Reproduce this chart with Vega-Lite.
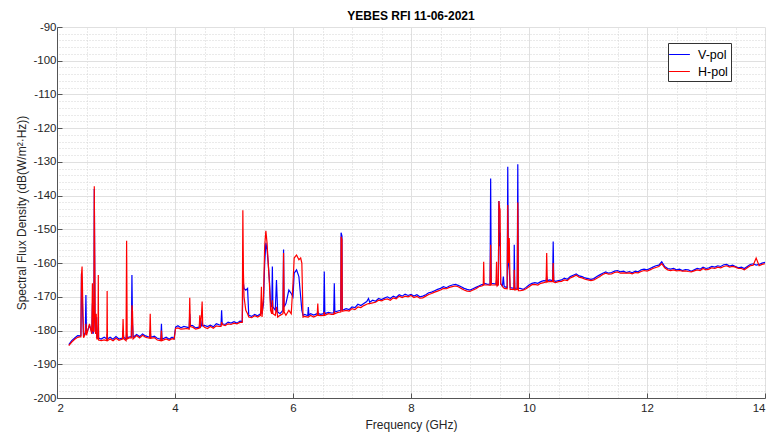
{
  "$schema": "https://vega.github.io/schema/vega-lite/v6.json",
  "width": 708,
  "height": 371,
  "autosize": {"type": "none"},
  "padding": {"left": 57, "top": 27, "right": 8, "bottom": 37},
  "background": "white",
  "config": {
    "view": {"stroke": null},
    "font": "Liberation Sans"
  },
  "title": {
    "text": "YEBES RFI 11-06-2021",
    "font": "Liberation Sans",
    "fontSize": 12,
    "fontWeight": "bold",
    "color": "#000000",
    "anchor": "middle",
    "offset": -2
  },
  "data": {
    "values": [
      {"f": 2.20, "V": -184.2, "H": -184.5},
      {"f": 2.25, "V": -183.0, "H": -183.4},
      {"f": 2.30, "V": -182.2, "H": -182.6},
      {"f": 2.35, "V": -181.5, "H": -182.0},
      {"f": 2.40, "V": -181.6, "H": -181.8},
      {"f": 2.405, "V": -181.5, "H": -182.0},
      {"f": 2.415, "V": -163.0, "H": -163.5},
      {"f": 2.425, "V": -167.0, "H": -161.0},
      {"f": 2.435, "V": -175.0, "H": -170.0},
      {"f": 2.45, "V": -181.8, "H": -182.1},
      {"f": 2.48, "V": -180.5, "H": -181.0},
      {"f": 2.49, "V": -169.5, "H": -178.0},
      {"f": 2.50, "V": -181.0, "H": -181.4},
      {"f": 2.55, "V": -178.5, "H": -178.0},
      {"f": 2.59, "V": -180.5, "H": -181.0},
      {"f": 2.60, "V": -172.0, "H": -166.0},
      {"f": 2.61, "V": -181.0, "H": -180.0},
      {"f": 2.625, "V": -180.0, "H": -180.5},
      {"f": 2.632, "V": -138.0, "H": -137.2},
      {"f": 2.645, "V": -176.0, "H": -175.0},
      {"f": 2.655, "V": -180.5, "H": -181.0},
      {"f": 2.665, "V": -176.0, "H": -175.0},
      {"f": 2.675, "V": -182.0, "H": -182.5},
      {"f": 2.695, "V": -182.0, "H": -182.5},
      {"f": 2.70, "V": -176.0, "H": -163.5},
      {"f": 2.705, "V": -182.2, "H": -182.8},
      {"f": 2.75, "V": -182.5, "H": -183.0},
      {"f": 2.80, "V": -182.0, "H": -182.8},
      {"f": 2.845, "V": -182.5, "H": -183.0},
      {"f": 2.85, "V": -181.0, "H": -168.3},
      {"f": 2.855, "V": -182.5, "H": -183.0},
      {"f": 2.90, "V": -182.0, "H": -182.5},
      {"f": 2.95, "V": -182.6, "H": -183.0},
      {"f": 3.00, "V": -181.8, "H": -182.3},
      {"f": 3.05, "V": -182.5, "H": -182.9},
      {"f": 3.11, "V": -182.2, "H": -182.5},
      {"f": 3.12, "V": -180.0, "H": -176.6},
      {"f": 3.13, "V": -182.0, "H": -182.4},
      {"f": 3.17, "V": -182.6, "H": -183.0},
      {"f": 3.18, "V": -181.0, "H": -153.4},
      {"f": 3.19, "V": -182.2, "H": -182.5},
      {"f": 3.22, "V": -181.9, "H": -182.2},
      {"f": 3.26, "V": -181.8, "H": -182.2},
      {"f": 3.27, "V": -163.5, "H": -172.5},
      {"f": 3.28, "V": -178.0, "H": -174.4},
      {"f": 3.29, "V": -182.0, "H": -182.5},
      {"f": 3.35, "V": -181.2, "H": -181.5},
      {"f": 3.40, "V": -181.8, "H": -182.2},
      {"f": 3.45, "V": -181.0, "H": -181.4},
      {"f": 3.50, "V": -181.6, "H": -182.0},
      {"f": 3.57, "V": -182.0, "H": -182.3},
      {"f": 3.58, "V": -180.0, "H": -175.0},
      {"f": 3.59, "V": -182.0, "H": -182.3},
      {"f": 3.65, "V": -181.7, "H": -182.1},
      {"f": 3.70, "V": -182.3, "H": -182.8},
      {"f": 3.76, "V": -182.6, "H": -183.0},
      {"f": 3.77, "V": -178.0, "H": -180.0},
      {"f": 3.78, "V": -182.6, "H": -183.0},
      {"f": 3.85, "V": -182.0, "H": -182.5},
      {"f": 3.90, "V": -182.6, "H": -182.9},
      {"f": 3.95, "V": -182.0, "H": -182.4},
      {"f": 3.985, "V": -182.4, "H": -182.6},
      {"f": 4.01, "V": -179.0, "H": -179.4},
      {"f": 4.05, "V": -178.6, "H": -179.2},
      {"f": 4.10, "V": -179.2, "H": -179.6},
      {"f": 4.15, "V": -178.8, "H": -179.5},
      {"f": 4.20, "V": -179.0, "H": -179.4},
      {"f": 4.24, "V": -179.2, "H": -179.6},
      {"f": 4.25, "V": -175.0, "H": -170.3},
      {"f": 4.26, "V": -178.5, "H": -178.8},
      {"f": 4.30, "V": -178.5, "H": -179.0},
      {"f": 4.35, "V": -179.2, "H": -179.6},
      {"f": 4.41, "V": -179.0, "H": -179.3},
      {"f": 4.42, "V": -178.0, "H": -175.5},
      {"f": 4.43, "V": -179.0, "H": -179.2},
      {"f": 4.45, "V": -178.5, "H": -175.0},
      {"f": 4.46, "V": -177.0, "H": -171.4},
      {"f": 4.47, "V": -178.6, "H": -178.5},
      {"f": 4.50, "V": -178.5, "H": -179.0},
      {"f": 4.55, "V": -178.8, "H": -179.4},
      {"f": 4.60, "V": -178.4, "H": -178.8},
      {"f": 4.65, "V": -178.9, "H": -179.3},
      {"f": 4.70, "V": -178.0, "H": -178.6},
      {"f": 4.75, "V": -178.3, "H": -178.8},
      {"f": 4.78, "V": -178.4, "H": -178.8},
      {"f": 4.79, "V": -174.0, "H": -177.5},
      {"f": 4.80, "V": -178.0, "H": -178.2},
      {"f": 4.85, "V": -178.2, "H": -178.5},
      {"f": 4.90, "V": -177.5, "H": -178.0},
      {"f": 4.95, "V": -177.8, "H": -178.2},
      {"f": 5.00, "V": -177.4, "H": -177.8},
      {"f": 5.05, "V": -177.8, "H": -178.0},
      {"f": 5.10, "V": -177.2, "H": -177.6},
      {"f": 5.14, "V": -177.3, "H": -177.6},
      {"f": 5.15, "V": -168.0, "H": -144.3},
      {"f": 5.16, "V": -166.0, "H": -163.0},
      {"f": 5.17, "V": -167.5, "H": -170.0},
      {"f": 5.20, "V": -168.0, "H": -174.0},
      {"f": 5.23, "V": -167.5, "H": -175.0},
      {"f": 5.25, "V": -175.5, "H": -176.0},
      {"f": 5.30, "V": -175.8, "H": -176.2},
      {"f": 5.35, "V": -175.2, "H": -175.6},
      {"f": 5.40, "V": -175.6, "H": -176.0},
      {"f": 5.45, "V": -175.0, "H": -175.5},
      {"f": 5.465, "V": -174.0, "H": -167.0},
      {"f": 5.475, "V": -175.0, "H": -176.0},
      {"f": 5.50, "V": -172.0, "H": -170.0},
      {"f": 5.52, "V": -160.0, "H": -155.0},
      {"f": 5.54, "V": -154.0, "H": -150.4},
      {"f": 5.56, "V": -156.0, "H": -154.0},
      {"f": 5.58, "V": -160.0, "H": -160.0},
      {"f": 5.60, "V": -165.0, "H": -166.0},
      {"f": 5.62, "V": -172.0, "H": -174.0},
      {"f": 5.64, "V": -173.0, "H": -175.0},
      {"f": 5.65, "V": -161.0, "H": -171.0},
      {"f": 5.66, "V": -173.0, "H": -175.0},
      {"f": 5.70, "V": -174.0, "H": -175.5},
      {"f": 5.72, "V": -165.0, "H": -173.0},
      {"f": 5.74, "V": -174.5, "H": -176.0},
      {"f": 5.78, "V": -175.0, "H": -175.5},
      {"f": 5.83, "V": -174.0, "H": -175.0},
      {"f": 5.84, "V": -156.0, "H": -157.0},
      {"f": 5.85, "V": -173.0, "H": -174.5},
      {"f": 5.88, "V": -172.0, "H": -175.5},
      {"f": 5.93, "V": -168.0, "H": -174.0},
      {"f": 5.97, "V": -169.0, "H": -175.0},
      {"f": 6.00, "V": -170.0, "H": -166.0},
      {"f": 6.02, "V": -163.0, "H": -158.5},
      {"f": 6.06, "V": -162.0, "H": -157.6},
      {"f": 6.10, "V": -164.0, "H": -159.0},
      {"f": 6.13, "V": -170.0, "H": -158.5},
      {"f": 6.15, "V": -174.0, "H": -160.0},
      {"f": 6.17, "V": -175.5, "H": -176.0},
      {"f": 6.20, "V": -175.2, "H": -175.8},
      {"f": 6.25, "V": -175.6, "H": -176.0},
      {"f": 6.26, "V": -173.0, "H": -176.0},
      {"f": 6.27, "V": -175.4, "H": -175.8},
      {"f": 6.30, "V": -175.0, "H": -175.5},
      {"f": 6.35, "V": -175.4, "H": -176.0},
      {"f": 6.41, "V": -175.0, "H": -175.5},
      {"f": 6.42, "V": -174.5, "H": -172.0},
      {"f": 6.43, "V": -175.0, "H": -175.5},
      {"f": 6.47, "V": -175.2, "H": -175.6},
      {"f": 6.52, "V": -175.0, "H": -175.5},
      {"f": 6.53, "V": -162.5, "H": -174.5},
      {"f": 6.54, "V": -175.0, "H": -175.5},
      {"f": 6.60, "V": -174.6, "H": -175.0},
      {"f": 6.65, "V": -174.8, "H": -175.2},
      {"f": 6.69, "V": -174.8, "H": -175.2},
      {"f": 6.70, "V": -166.0, "H": -174.5},
      {"f": 6.71, "V": -174.5, "H": -175.0},
      {"f": 6.76, "V": -174.2, "H": -174.6},
      {"f": 6.81, "V": -174.0, "H": -174.5},
      {"f": 6.815, "V": -151.0, "H": -152.2},
      {"f": 6.83, "V": -152.0, "H": -153.0},
      {"f": 6.835, "V": -174.0, "H": -174.3},
      {"f": 6.90, "V": -173.5, "H": -174.0},
      {"f": 6.95, "V": -173.8, "H": -174.2},
      {"f": 7.00, "V": -173.0, "H": -173.5},
      {"f": 7.05, "V": -173.2, "H": -173.8},
      {"f": 7.10, "V": -172.2, "H": -173.0},
      {"f": 7.15, "V": -172.6, "H": -173.2},
      {"f": 7.20, "V": -172.0, "H": -172.6},
      {"f": 7.25, "V": -171.4, "H": -172.2},
      {"f": 7.28, "V": -170.5, "H": -172.0},
      {"f": 7.30, "V": -171.6, "H": -172.0},
      {"f": 7.35, "V": -171.0, "H": -171.8},
      {"f": 7.40, "V": -171.3, "H": -171.6},
      {"f": 7.45, "V": -170.5, "H": -171.0},
      {"f": 7.50, "V": -170.8, "H": -171.2},
      {"f": 7.55, "V": -170.4, "H": -170.8},
      {"f": 7.60, "V": -170.0, "H": -170.6},
      {"f": 7.65, "V": -170.5, "H": -171.0},
      {"f": 7.70, "V": -169.8, "H": -170.3},
      {"f": 7.75, "V": -170.2, "H": -170.6},
      {"f": 7.80, "V": -169.4, "H": -169.8},
      {"f": 7.85, "V": -169.8, "H": -170.2},
      {"f": 7.90, "V": -169.2, "H": -169.8},
      {"f": 7.95, "V": -169.6, "H": -170.0},
      {"f": 8.00, "V": -169.3, "H": -169.6},
      {"f": 8.05, "V": -169.8, "H": -170.2},
      {"f": 8.10, "V": -169.4, "H": -169.9},
      {"f": 8.15, "V": -170.0, "H": -170.4},
      {"f": 8.20, "V": -169.8, "H": -170.3},
      {"f": 8.25, "V": -169.4, "H": -169.8},
      {"f": 8.30, "V": -168.8, "H": -169.3},
      {"f": 8.35, "V": -168.6, "H": -169.0},
      {"f": 8.40, "V": -168.2, "H": -168.6},
      {"f": 8.45, "V": -167.8, "H": -168.3},
      {"f": 8.50, "V": -167.5, "H": -168.0},
      {"f": 8.55, "V": -167.0, "H": -167.5},
      {"f": 8.60, "V": -167.3, "H": -167.6},
      {"f": 8.65, "V": -166.8, "H": -167.2},
      {"f": 8.70, "V": -166.5, "H": -167.0},
      {"f": 8.75, "V": -166.3, "H": -166.8},
      {"f": 8.80, "V": -166.6, "H": -167.0},
      {"f": 8.85, "V": -167.0, "H": -167.5},
      {"f": 8.90, "V": -167.5, "H": -168.0},
      {"f": 8.95, "V": -167.8, "H": -168.3},
      {"f": 9.00, "V": -168.0, "H": -168.4},
      {"f": 9.05, "V": -167.6, "H": -168.0},
      {"f": 9.10, "V": -167.2, "H": -167.6},
      {"f": 9.15, "V": -166.8, "H": -167.0},
      {"f": 9.20, "V": -166.4, "H": -166.8},
      {"f": 9.225, "V": -166.3, "H": -166.6},
      {"f": 9.232, "V": -166.0, "H": -159.6},
      {"f": 9.24, "V": -166.0, "H": -166.5},
      {"f": 9.30, "V": -166.3, "H": -166.5},
      {"f": 9.34, "V": -166.2, "H": -166.6},
      {"f": 9.35, "V": -134.9, "H": -154.6},
      {"f": 9.36, "V": -166.0, "H": -166.5},
      {"f": 9.44, "V": -166.2, "H": -166.5},
      {"f": 9.45, "V": -165.0, "H": -159.6},
      {"f": 9.46, "V": -166.5, "H": -166.8},
      {"f": 9.48, "V": -166.4, "H": -166.4},
      {"f": 9.49, "V": -141.6, "H": -141.6},
      {"f": 9.50, "V": -155.0, "H": -143.5},
      {"f": 9.51, "V": -151.0, "H": -144.3},
      {"f": 9.52, "V": -166.2, "H": -166.0},
      {"f": 9.55, "V": -166.8, "H": -167.0},
      {"f": 9.565, "V": -164.0, "H": -167.2},
      {"f": 9.58, "V": -167.0, "H": -167.5},
      {"f": 9.63, "V": -167.2, "H": -167.6},
      {"f": 9.64, "V": -131.4, "H": -142.8},
      {"f": 9.65, "V": -160.0, "H": -160.0},
      {"f": 9.665, "V": -162.0, "H": -152.6},
      {"f": 9.68, "V": -167.3, "H": -167.8},
      {"f": 9.745, "V": -167.5, "H": -167.8},
      {"f": 9.75, "V": -154.6, "H": -162.0},
      {"f": 9.76, "V": -167.5, "H": -168.0},
      {"f": 9.80, "V": -167.4, "H": -167.8},
      {"f": 9.81, "V": -130.7, "H": -142.0},
      {"f": 9.82, "V": -167.5, "H": -168.2},
      {"f": 9.85, "V": -167.5, "H": -168.2},
      {"f": 9.90, "V": -167.8, "H": -168.0},
      {"f": 9.95, "V": -167.2, "H": -167.6},
      {"f": 10.00, "V": -166.5, "H": -167.0},
      {"f": 10.05, "V": -166.0, "H": -166.4},
      {"f": 10.10, "V": -165.8, "H": -166.3},
      {"f": 10.15, "V": -166.0, "H": -166.5},
      {"f": 10.20, "V": -165.5, "H": -166.0},
      {"f": 10.25, "V": -165.2, "H": -165.8},
      {"f": 10.29, "V": -165.3, "H": -165.6},
      {"f": 10.30, "V": -164.0, "H": -157.0},
      {"f": 10.31, "V": -165.2, "H": -165.6},
      {"f": 10.35, "V": -165.0, "H": -165.4},
      {"f": 10.40, "V": -165.2, "H": -165.5},
      {"f": 10.41, "V": -153.6, "H": -160.0},
      {"f": 10.42, "V": -165.2, "H": -165.6},
      {"f": 10.45, "V": -165.4, "H": -165.8},
      {"f": 10.50, "V": -165.2, "H": -165.5},
      {"f": 10.55, "V": -165.0, "H": -165.4},
      {"f": 10.60, "V": -164.5, "H": -165.0},
      {"f": 10.65, "V": -164.8, "H": -165.2},
      {"f": 10.70, "V": -164.0, "H": -164.4},
      {"f": 10.75, "V": -163.6, "H": -164.0},
      {"f": 10.80, "V": -163.2, "H": -163.6},
      {"f": 10.85, "V": -163.8, "H": -164.2},
      {"f": 10.90, "V": -164.0, "H": -164.4},
      {"f": 10.95, "V": -164.4, "H": -164.8},
      {"f": 11.00, "V": -164.6, "H": -165.0},
      {"f": 11.05, "V": -164.8, "H": -165.2},
      {"f": 11.10, "V": -164.6, "H": -165.0},
      {"f": 11.15, "V": -164.0, "H": -164.5},
      {"f": 11.20, "V": -163.5, "H": -164.0},
      {"f": 11.25, "V": -163.0, "H": -163.4},
      {"f": 11.30, "V": -162.6, "H": -163.0},
      {"f": 11.35, "V": -163.0, "H": -163.3},
      {"f": 11.40, "V": -162.8, "H": -163.2},
      {"f": 11.45, "V": -162.4, "H": -162.8},
      {"f": 11.50, "V": -162.2, "H": -162.6},
      {"f": 11.55, "V": -162.6, "H": -163.0},
      {"f": 11.60, "V": -162.4, "H": -162.9},
      {"f": 11.65, "V": -162.8, "H": -163.0},
      {"f": 11.70, "V": -162.5, "H": -162.9},
      {"f": 11.75, "V": -162.9, "H": -163.2},
      {"f": 11.80, "V": -162.4, "H": -162.8},
      {"f": 11.85, "V": -162.6, "H": -162.9},
      {"f": 11.90, "V": -162.0, "H": -162.5},
      {"f": 11.95, "V": -161.8, "H": -162.2},
      {"f": 12.00, "V": -162.0, "H": -162.4},
      {"f": 12.05, "V": -161.6, "H": -162.0},
      {"f": 12.10, "V": -161.2, "H": -161.6},
      {"f": 12.15, "V": -160.8, "H": -161.3},
      {"f": 12.20, "V": -160.6, "H": -161.0},
      {"f": 12.25, "V": -159.6, "H": -160.2},
      {"f": 12.30, "V": -161.0, "H": -161.4},
      {"f": 12.35, "V": -161.6, "H": -162.0},
      {"f": 12.40, "V": -161.8, "H": -162.2},
      {"f": 12.45, "V": -161.6, "H": -162.0},
      {"f": 12.50, "V": -162.0, "H": -162.3},
      {"f": 12.55, "V": -161.8, "H": -162.2},
      {"f": 12.60, "V": -162.2, "H": -162.4},
      {"f": 12.65, "V": -161.9, "H": -162.3},
      {"f": 12.70, "V": -162.0, "H": -162.5},
      {"f": 12.75, "V": -162.4, "H": -162.6},
      {"f": 12.80, "V": -162.0, "H": -162.3},
      {"f": 12.85, "V": -161.6, "H": -162.0},
      {"f": 12.90, "V": -161.8, "H": -162.2},
      {"f": 12.95, "V": -161.2, "H": -161.6},
      {"f": 13.00, "V": -161.6, "H": -162.0},
      {"f": 13.05, "V": -161.4, "H": -161.8},
      {"f": 13.10, "V": -161.0, "H": -161.4},
      {"f": 13.15, "V": -161.2, "H": -161.6},
      {"f": 13.20, "V": -160.8, "H": -161.2},
      {"f": 13.25, "V": -161.0, "H": -161.4},
      {"f": 13.30, "V": -160.5, "H": -161.0},
      {"f": 13.35, "V": -160.4, "H": -160.8},
      {"f": 13.40, "V": -160.9, "H": -161.2},
      {"f": 13.45, "V": -160.6, "H": -161.0},
      {"f": 13.50, "V": -161.0, "H": -161.2},
      {"f": 13.55, "V": -161.4, "H": -161.6},
      {"f": 13.60, "V": -161.2, "H": -161.6},
      {"f": 13.65, "V": -161.6, "H": -162.0},
      {"f": 13.70, "V": -161.0, "H": -161.4},
      {"f": 13.75, "V": -160.4, "H": -160.8},
      {"f": 13.80, "V": -160.2, "H": -160.6},
      {"f": 13.85, "V": -160.6, "H": -158.5},
      {"f": 13.90, "V": -160.4, "H": -160.8},
      {"f": 13.95, "V": -160.0, "H": -160.4},
      {"f": 14.00, "V": -159.8, "H": -160.2}
    ]
  },
  "layer": [
    {
      "mark": {"type": "line", "strokeOpacity": 0},
      "encoding": {
        "x": {
          "field": "f", "type": "quantitative",
          "scale": {"domain": [2, 14], "nice": false, "zero": false},
          "axis": {
            "orient": "top",
            "values": [2.5, 3, 3.5, 4.5, 5, 5.5, 6.5, 7, 7.5, 8.5, 9, 9.5, 10.5, 11, 11.5, 12.5, 13, 13.5],
            "grid": true, "gridColor": "#d4d4d4", "gridDash": [1, 2], "gridWidth": 1,
            "labels": false, "ticks": false, "domain": false, "title": null
          }
        },
        "y": {
          "field": "V", "type": "quantitative",
          "scale": {"domain": [-200, -90], "nice": false, "zero": false},
          "axis": {
            "orient": "right",
            "values": [-198, -196, -194, -192, -188, -186, -184, -182, -178, -176, -174, -172, -168, -166, -164, -162, -158, -156, -154, -152, -148, -146, -144, -142, -138, -136, -134, -132, -128, -126, -124, -122, -118, -116, -114, -112, -108, -106, -104, -102, -98, -96, -94, -92],
            "grid": true, "gridColor": "#d4d4d4", "gridDash": [1, 2], "gridWidth": 1,
            "labels": false, "ticks": false, "domain": false, "title": null
          }
        }
      }
    },
    {
      "mark": {"type": "line", "strokeWidth": 1.2, "interpolate": "linear"},
      "encoding": {
        "x": {
          "field": "f", "type": "quantitative",
          "scale": {"domain": [2, 14], "nice": false, "zero": false},
          "axis": {
            "orient": "bottom",
            "values": [2, 4, 6, 8, 10, 12, 14],
            "labelExpr": "'' + datum.value",
            "grid": true, "gridColor": "#e0e0e0", "gridWidth": 1,
            "domainColor": "#555555", "domainWidth": 1,
            "tickColor": "#555555", "tickSize": -5,
            "labelFont": "Liberation Sans", "labelFontSize": 11.5, "labelColor": "#262626",
            "labelPadding": 9,
            "title": "Frequency (GHz)",
            "titleFont": "Liberation Sans", "titleFontSize": 12, "titleFontWeight": "normal", "titleColor": "#262626",
            "titlePadding": 6
          }
        },
        "y": {
          "field": "V", "type": "quantitative",
          "scale": {"domain": [-200, -90], "nice": false, "zero": false},
          "axis": {
            "orient": "left",
            "values": [-200, -190, -180, -170, -160, -150, -140, -130, -120, -110, -100, -90],
            "labelExpr": "'' + datum.value",
            "grid": true, "gridColor": "#e0e0e0", "gridWidth": 1,
            "domainColor": "#555555", "domainWidth": 1,
            "tickColor": "#555555", "tickSize": -5,
            "labelFont": "Liberation Sans", "labelFontSize": 11.5, "labelColor": "#262626",
            "labelPadding": 6,
            "title": "Spectral Flux Density (dB(W/m²·Hz))",
            "titleFont": "Liberation Sans", "titleFontSize": 12, "titleFontWeight": "normal", "titleColor": "#262626",
            "titlePadding": 4
          }
        },
        "color": {
          "datum": "V-pol",
          "scale": {"domain": ["V-pol", "H-pol"], "range": ["#0000ff", "#ff0000"]},
          "legend": {
            "title": null,
            "orient": "none",
            "legendX": 611,
            "legendY": 16,
            "symbolType": "M-1.3,0H1.3",
            "symbolSize": 256,
            "symbolStrokeWidth": 1,
            "labelFont": "Liberation Sans",
            "labelFontSize": 12.5,
            "labelColor": "#000000",
            "fillColor": "#ffffff",
            "strokeColor": "#333333",
            "padding": 3,
            "rowPadding": 2,
            "labelOffset": 10
          }
        }
      }
    },
    {
      "mark": {"type": "line", "strokeWidth": 1.2, "interpolate": "linear"},
      "encoding": {
        "x": {"field": "f", "type": "quantitative", "axis": null},
        "y": {"field": "H", "type": "quantitative", "axis": null},
        "color": {"datum": "H-pol"}
      }
    }
  ],
  "resolve": {"axis": {"x": "independent", "y": "independent"}}
}
